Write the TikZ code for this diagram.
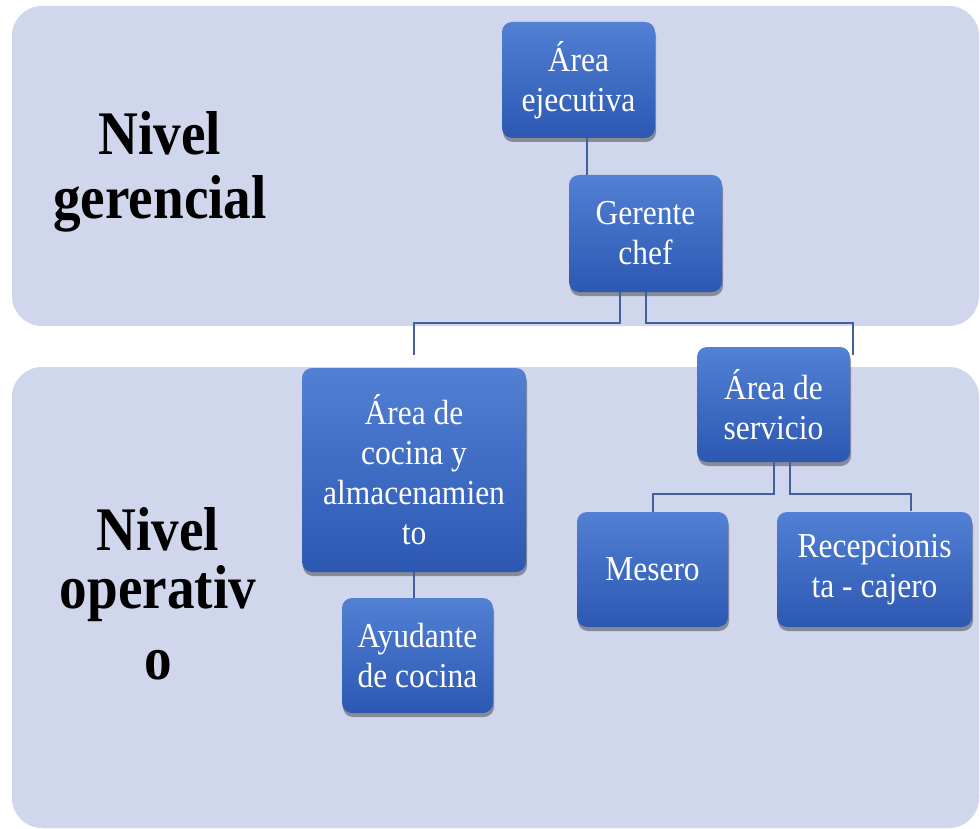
\documentclass[tikz,border=0pt]{standalone}
\usepackage{fontspec}
\setmainfont{Liberation Serif}
\newfontfamily\boxfont[FakeStretch=0.9]{Liberation Serif}
\newfontfamily\lvlfont[FakeStretch=0.89]{Liberation Serif}
\usetikzlibrary{shadows}
\definecolor{bandcol}{RGB}{208,214,235}
\definecolor{boxtop}{RGB}{82,128,212}
\definecolor{boxbot}{RGB}{44,88,178}
\definecolor{conncol}{RGB}{66,96,156}
\begin{document}
\begin{tikzpicture}[x=1pt,y=-1pt,
  orgbox/.style={rounded corners=10pt, top color=boxtop, bottom color=boxbot,
    draw=none, text=white, align=center, inner sep=0pt,
    font=\boxfont\fontsize{35}{40}\selectfont,
    drop shadow={shadow xshift=1pt, shadow yshift=-4pt, opacity=0.35, fill=black}},
  lvl/.style={align=center, inner sep=0pt, text=black,
    font=\lvlfont\bfseries\fontsize{62}{64}\selectfont},
  conn/.style={draw=conncol, line width=2pt}]
\useasboundingbox (0,0) rectangle (980,829);
\fill[white] (0,0) rectangle (980,829);
% bands
\fill[bandcol, rounded corners=30pt] (12,6) rectangle (979,326);
\fill[bandcol, rounded corners=30pt] (12,367) rectangle (979,828);
% level labels
\node[lvl] (lg) at (160,172) {Nivel\\gerencial};
\node[lvl] (lo) at (158,594) {Nivel\\[-6pt]operativ\\[7pt]o};
% boxes
\node[orgbox, minimum width=153pt, minimum height=116pt] (ej) at (578.5,80) {Área\\ejecutiva};
\node[orgbox, minimum width=153pt, minimum height=117pt] (gc) at (645.5,233.5) {Gerente\\chef};
\node[orgbox, minimum width=224pt, minimum height=204pt] (co) at (414,470) {Área de\\cocina y\\almacenamien\\to};
\node[orgbox, minimum width=153pt, minimum height=115pt] (se) at (773.5,404.5) {Área de\\servicio};
\node[orgbox, minimum width=151pt, minimum height=115pt] (ay) at (417.5,655.5) {Ayudante\\de cocina};
\node[orgbox, minimum width=151pt, minimum height=115pt] (me) at (652.5,569.5) {Mesero};
\node[orgbox, minimum width=195pt, minimum height=115pt] (re) at (874.5,569.5) {Recepcionis\\ta - cajero};
% free ends
\coordinate (cotop) at (414,355);
\coordinate (setop) at (853,355);
\coordinate (retop) at (911,511);
% connectors
\draw[conn] (ej.south -| 587,0) -- (gc.north -| 587,0);
\draw[conn] (gc.south -| 620,0) -- (620,323) -| (cotop);
\draw[conn] (gc.south -| 646,0) -- (646,323) -| (setop);
\draw[conn] (co.south) -- (ay.north -| co.south);
\draw[conn] (se.south -| 774,0) -- (774,494) -| (me.north);
\draw[conn] (se.south -| 790,0) -- (790,494) -| (retop);
\end{tikzpicture}
\end{document}
